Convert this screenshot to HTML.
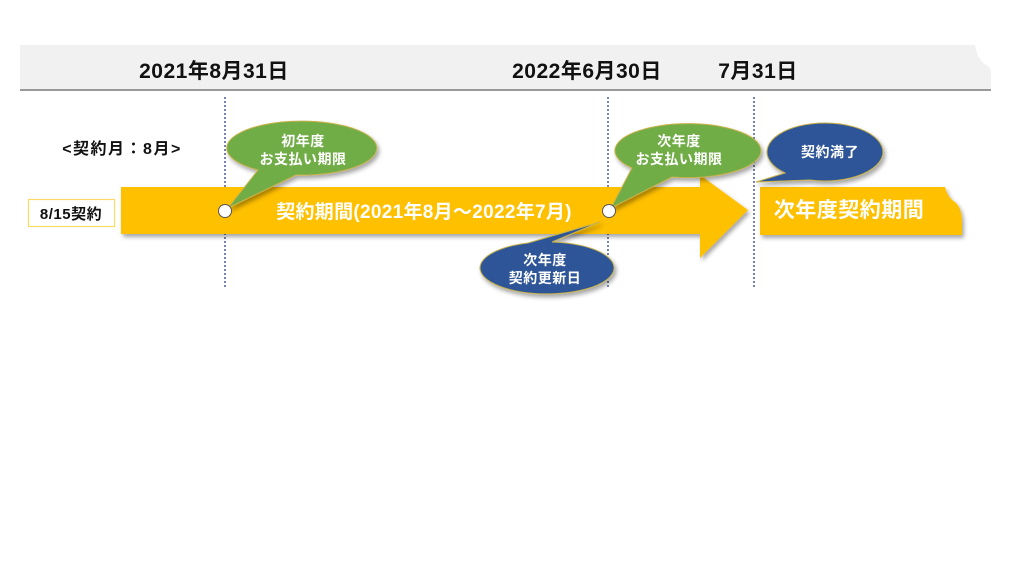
<!DOCTYPE html>
<html><head><meta charset="utf-8"><style>
html,body{margin:0;padding:0;background:#fff;width:1024px;height:576px;overflow:hidden}
text{font-family:"Liberation Sans","Noto Sans CJK JP",sans-serif;font-weight:bold}
</style></head><body>
<svg width="1024" height="576" viewBox="0 0 1024 576" xmlns="http://www.w3.org/2000/svg">
<defs>
<filter id="sh" x="-10%" y="-10%" width="130%" height="150%"><feDropShadow dx="2" dy="3" stdDeviation="2" flood-color="#000" flood-opacity="0.35"/></filter>
</defs>
<path d="M20,45 H975 Q978,62 988,66 Q992,70 991,78 V90 H20 Z" fill="#f1f1f1"/>
<line x1="20" y1="90" x2="991" y2="90" stroke="#9a9a9a" stroke-width="2"/>
<text x="214" y="78" font-size="21" letter-spacing="0.5" text-anchor="middle" fill="#111">2021年8月31日</text>
<text x="587" y="78" font-size="21" letter-spacing="0.5" text-anchor="middle" fill="#111">2022年6月30日</text>
<text x="758" y="78" font-size="21" letter-spacing="0.5" text-anchor="middle" fill="#111">7月31日</text>
<g stroke="#2f3f7f" stroke-width="1.3" stroke-dasharray="2,2">
<line x1="225" y1="97" x2="225" y2="288"/>
<line x1="608" y1="97" x2="608" y2="288"/>
<line x1="754" y1="97" x2="754" y2="288"/>
</g>
<text x="122" y="154" font-size="16" letter-spacing="1.5" text-anchor="middle" fill="#111">&lt;契約月：8月&gt;</text>
<rect x="28.5" y="199.5" width="86" height="27" fill="#fff" stroke="#ffd966" stroke-width="1.2"/>
<text x="71" y="219" font-size="15" letter-spacing="0.5" text-anchor="middle" fill="#111">8/15契約</text>
<path d="M121,187 H700 V175 L748,210 L700,258 V234 H121 Z" fill="#ffc000" filter="url(#sh)"/>
<text x="424" y="218" font-size="19" letter-spacing="0.3" text-anchor="middle" fill="#fff">契約期間(2021年8月～2022年7月)</text>
<path d="M760,187 H945 Q948,198 955,202 Q962,208 962,222 V235 H760 Z" fill="#ffc000" filter="url(#sh)"/>
<text x="849" y="217" font-size="21" letter-spacing="0.5" text-anchor="middle" fill="#fff">次年度契約期間</text>
<g filter="url(#sh)" stroke="#c9b24a" stroke-width="1">
<path d="M258,170 A75,27 0 1 1 296,175 L228,208 Z" fill="#70ad47"/>
<path d="M632,168 A73,27 0 1 1 672,177 L611,208 Z" fill="#70ad47"/>
<path d="M552,242 A67,26 0 1 1 528,243 L600,222 Z" fill="#2f5597"/>
<path d="M785,173 A58,29 0 1 1 810,180 L756,182 Z" fill="#2f5597"/>
</g>
<g font-size="14" fill="#fff" text-anchor="middle" letter-spacing="0.5">
<text x="303" y="146">初年度</text><text x="303" y="164">お支払い期限</text>
<text x="679" y="146">次年度</text><text x="679" y="164">お支払い期限</text>
<text x="545" y="265">次年度</text><text x="545" y="283">契約更新日</text>
<text x="830" y="157">契約満了</text>
</g>
<circle cx="225" cy="211" r="6.5" fill="#fff" stroke="#555" stroke-width="1"/>
<circle cx="609" cy="211" r="6.5" fill="#fff" stroke="#555" stroke-width="1"/>
</svg>
</body></html>
